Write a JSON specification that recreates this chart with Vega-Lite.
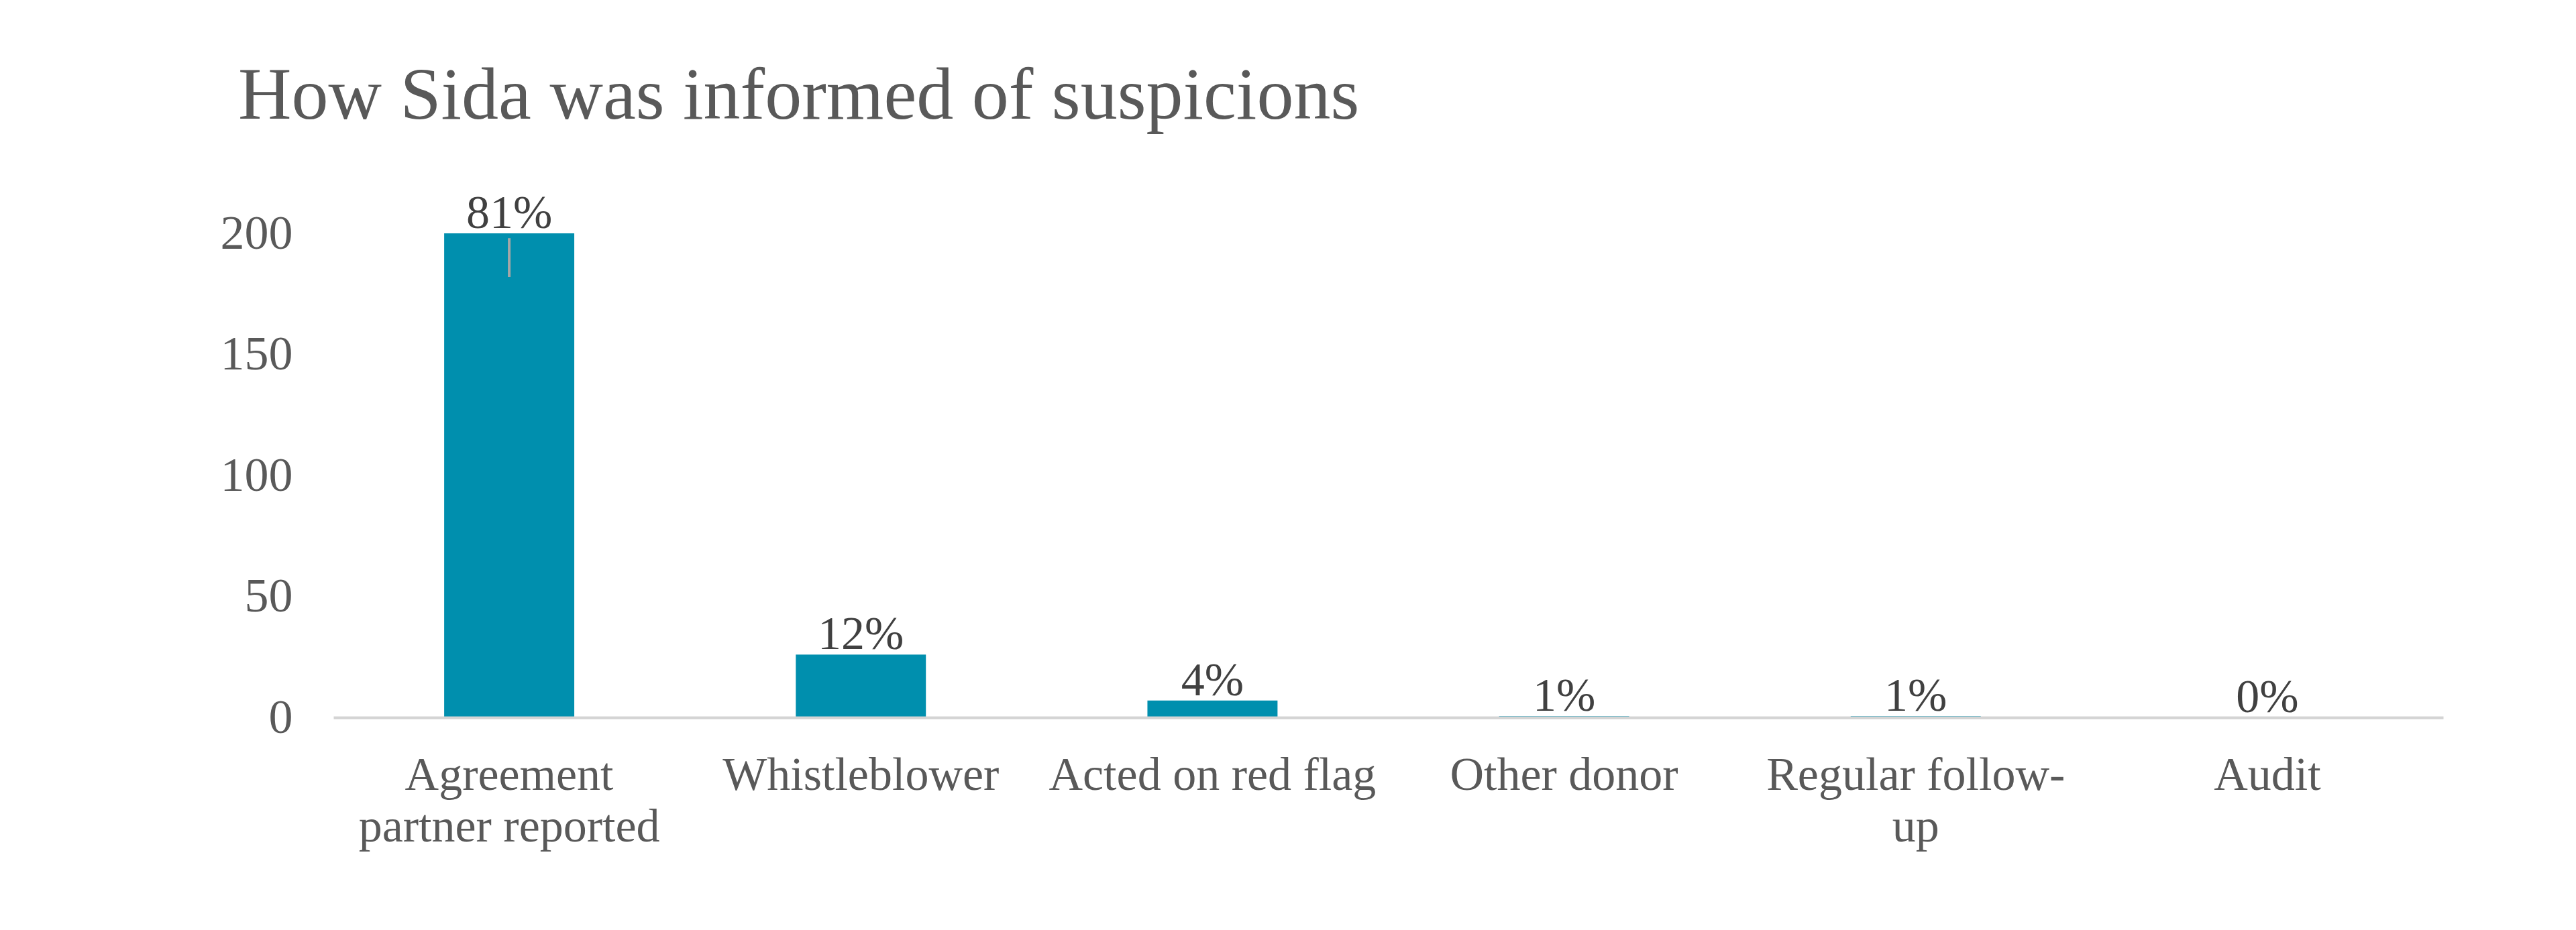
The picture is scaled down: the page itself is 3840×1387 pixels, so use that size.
{
  "$schema": "https://vega.github.io/schema/vega-lite/v6.json",
  "width": 3145,
  "height": 722,
  "autosize": {"type": "none"},
  "padding": {"left": 497, "top": 348, "right": 198, "bottom": 317},
  "background": "white",
  "config": {"view": {"stroke": null}},
  "title": {
    "text": "How Sida was informed of suspicions",
    "anchor": "start",
    "frame": "group",
    "dx": -142,
    "font": "Liberation Serif",
    "fontSize": 110,
    "fontWeight": "normal",
    "color": "#595959",
    "offset": 84
  },
  "data": {
    "values": [
      {"source": "Agreement partner reported", "count": 200, "share": "81%"},
      {"source": "Whistleblower", "count": 26, "share": "12%"},
      {"source": "Acted on red flag", "count": 7, "share": "4%"},
      {"source": "Other donor", "count": 0.5, "share": "1%"},
      {"source": "Regular follow-up", "count": 0.5, "share": "1%"},
      {"source": "Audit", "count": 0, "share": "0%"}
    ]
  },
  "encoding": {
    "x": {
      "field": "source",
      "type": "nominal",
      "sort": null,
      "scale": {"paddingInner": 0.63, "paddingOuter": 0.315},
      "axis": {
        "title": null,
        "labelAngle": 0,
        "domainColor": "#D4D4D4",
        "domainWidth": 4,
        "ticks": false,
        "tickSize": 0,
        "labelFont": "Liberation Serif",
        "labelFontSize": 70,
        "labelColor": "#595959",
        "labelPadding": 52,
        "labelLineHeight": 77,
        "labelLimit": 0,
        "zindex": 1,
        "labelExpr": "datum.value == 'Agreement partner reported' ? ['Agreement', 'partner reported'] : datum.value == 'Regular follow-up' ? ['Regular follow-', 'up'] : datum.value"
      }
    },
    "y": {
      "field": "count",
      "type": "quantitative",
      "scale": {"domain": [0, 200], "nice": false},
      "axis": {
        "title": null,
        "domain": false,
        "grid": false,
        "ticks": false,
        "tickSize": 0,
        "values": [0, 50, 100, 150, 200],
        "labelFont": "Liberation Serif",
        "labelFontSize": 72,
        "labelColor": "#595959",
        "labelPadding": 61
      }
    }
  },
  "layer": [
    {"mark": {"type": "bar", "color": "#008FAE"}},
    {
      "data": {"values": [{"source": "Agreement partner reported", "top": 198, "bottom": 182}]},
      "mark": {"type": "rule", "color": "#A6A6A6", "strokeWidth": 4},
      "encoding": {
        "y": {"field": "top", "type": "quantitative"},
        "y2": {"field": "bottom"}
      }
    },
    {
      "mark": {
        "type": "text",
        "baseline": "alphabetic",
        "dy": -8,
        "font": "Liberation Serif",
        "fontSize": 70,
        "color": "#404040"
      },
      "encoding": {"text": {"field": "share"}}
    }
  ]
}
